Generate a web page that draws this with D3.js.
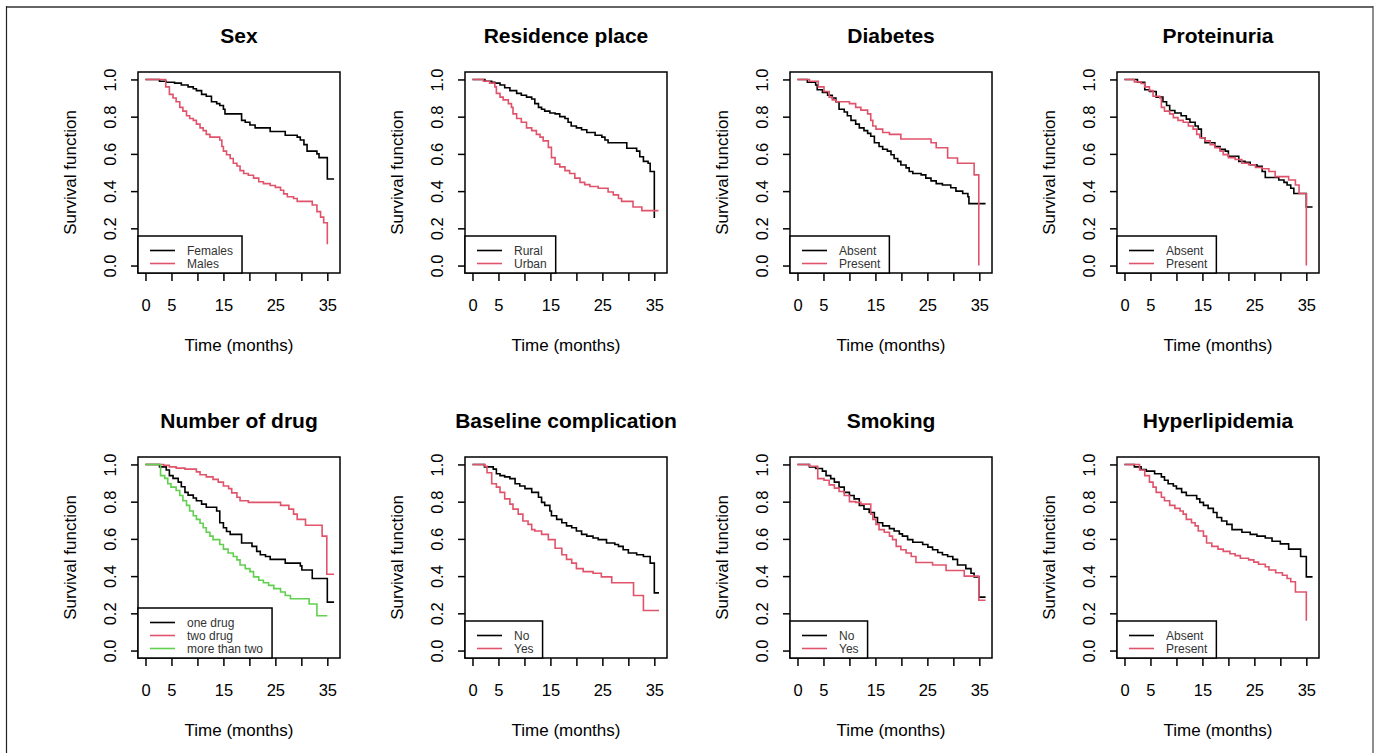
<!DOCTYPE html>
<html>
<head>
<meta charset="utf-8">
<script src="https://cdn.jsdelivr.net/npm/d3@7"></script>
<style>
  body { margin: 0; background: #fff; }
  svg { display: block; font-family: "Liberation Sans", Arial, sans-serif; }
</style>
</head>
<body>
<div id="chart"></div>
<script>
// Kaplan-Meier steps: [time in months, survival]
var sexFemales = [[0,1],[2.7,0.99],[4,0.985],[5.6,0.98],[6.9,0.97],[8.2,0.96],[9.2,0.95],[9.8,0.94],[10.8,0.92],[11.7,0.91],[12.7,0.88],[13.7,0.87],[14.3,0.86],[15,0.84],[15.3,0.815],[18.5,0.78],[19.2,0.77],[20.1,0.755],[21.1,0.74],[24,0.72],[26.9,0.70],[29.2,0.69],[29.8,0.675],[30.5,0.65],[31.1,0.615],[33,0.60],[33.4,0.58],[35,0.465],[36.3,0.465]];
var sexMales = [[0,1],[3.9,0.96],[4.6,0.92],[5.3,0.90],[5.9,0.88],[6.6,0.85],[7.2,0.83],[7.9,0.805],[8.5,0.79],[9.2,0.78],[9.8,0.76],[10.5,0.74],[11.1,0.725],[11.7,0.705],[12.4,0.69],[14.3,0.675],[14.7,0.64],[15,0.615],[15.6,0.595],[16.3,0.575],[16.9,0.55],[17.6,0.535],[18.2,0.51],[18.9,0.495],[19.8,0.485],[20.8,0.47],[21.8,0.45],[22.7,0.44],[24,0.43],[25,0.42],[26,0.405],[26.6,0.385],[27.3,0.37],[28.5,0.36],[29.2,0.345],[32.1,0.325],[33,0.29],[33.7,0.26],[34.3,0.23],[35,0.115]];

var resRural = [[0,1],[2.4,0.99],[3.7,0.985],[4.3,0.98],[5.3,0.97],[6.2,0.955],[7.2,0.94],[8.5,0.925],[9.4,0.915],[10.4,0.905],[11.4,0.895],[12,0.87],[12.7,0.85],[13.3,0.84],[13.9,0.83],[14.9,0.82],[15.9,0.815],[16.8,0.80],[17.8,0.79],[18.4,0.77],[19,0.75],[20,0.74],[21,0.73],[22,0.715],[23.6,0.70],[24.9,0.69],[25.5,0.675],[26.1,0.66],[29.7,0.63],[31.6,0.615],[32.2,0.585],[32.9,0.56],[33.8,0.55],[34.2,0.505],[35,0.255]];
var resUrban = [[0,1],[2.1,0.99],[3.3,0.98],[4.3,0.96],[4.6,0.925],[5.3,0.905],[5.9,0.89],[6.9,0.87],[7.5,0.85],[7.8,0.815],[8.5,0.79],[9.4,0.77],[10.4,0.74],[11.4,0.725],[12.3,0.705],[13,0.69],[13.6,0.67],[14.6,0.635],[15.2,0.58],[15.9,0.545],[16.8,0.53],[17.8,0.51],[18.7,0.495],[19.7,0.47],[20.7,0.447],[21.6,0.435],[22.6,0.425],[24.2,0.415],[26.1,0.395],[27.1,0.38],[28.1,0.36],[28.7,0.345],[30.9,0.315],[32.6,0.295],[35.8,0.295]];

var diabAbsent = [[0,1],[1.9,0.985],[3.5,0.97],[3.8,0.945],[4.8,0.93],[5.8,0.915],[6.7,0.90],[7.4,0.88],[8,0.84],[9,0.825],[9.6,0.805],[10.3,0.78],[11.2,0.76],[11.9,0.74],[12.8,0.725],[13.5,0.71],[14.1,0.695],[14.8,0.66],[15.7,0.64],[16.4,0.625],[17.3,0.615],[18,0.595],[18.6,0.575],[19.3,0.56],[19.9,0.54],[20.9,0.525],[21.5,0.505],[22.2,0.495],[23.8,0.487],[24.7,0.47],[25.7,0.455],[26.7,0.44],[27.9,0.433],[29.5,0.418],[30.5,0.40],[31.8,0.387],[32.8,0.37],[33,0.333],[36.2,0.333]];
var diabPresent = [[0,1],[2.3,0.99],[4.0,0.96],[5.1,0.935],[6.1,0.905],[6.7,0.89],[7.4,0.88],[10,0.87],[11.2,0.85],[12.2,0.835],[13.5,0.815],[14.1,0.78],[14.5,0.75],[15.1,0.733],[16.4,0.715],[17.7,0.705],[19.9,0.68],[25.7,0.66],[26.7,0.633],[28.9,0.578],[30.8,0.55],[34,0.487],[34.9,0]];

var protAbsent = [[0,1],[2.5,0.985],[3.9,0.945],[4.8,0.935],[6.1,0.905],[7.4,0.88],[8.1,0.86],[8.7,0.833],[9.7,0.82],[10.9,0.805],[11.9,0.787],[12.6,0.77],[13.6,0.75],[14.2,0.733],[14.8,0.687],[15.5,0.66],[17.4,0.64],[18.4,0.624],[19.4,0.615],[20,0.587],[22,0.56],[23.2,0.555],[24.2,0.542],[25.5,0.533],[26.5,0.505],[27.1,0.473],[29.7,0.46],[30.7,0.447],[31.3,0.433],[32,0.415],[32.6,0.387],[35,0.315],[36.2,0.315]];
var protPresent = [[0,1],[1.9,0.987],[3.2,0.978],[3.9,0.96],[4.8,0.94],[5.5,0.91],[6.8,0.90],[7.1,0.85],[7.7,0.83],[8.7,0.815],[9.4,0.795],[10.3,0.78],[11.3,0.77],[12.3,0.75],[13.2,0.733],[13.9,0.705],[14.5,0.687],[15.5,0.67],[16.5,0.65],[17.4,0.633],[18.4,0.615],[19,0.596],[20,0.58],[21.3,0.57],[22.6,0.55],[23.9,0.542],[25.2,0.527],[26.5,0.52],[27.8,0.505],[29,0.478],[31.6,0.46],[32.9,0.433],[33.6,0.387],[35,0]];

var drugOne = [[0,1],[2.7,0.987],[4,0.97],[4.6,0.94],[5.3,0.925],[6.3,0.905],[6.9,0.88],[7.6,0.85],[8.2,0.835],[9.2,0.82],[9.8,0.805],[10.8,0.787],[11.7,0.77],[13.7,0.75],[14.3,0.687],[15,0.66],[15.6,0.64],[16.3,0.624],[18.5,0.578],[20.5,0.56],[21.4,0.533],[22.1,0.515],[23.1,0.505],[24,0.49],[26.9,0.47],[29.8,0.455],[30.1,0.433],[32.1,0.387],[35,0.26],[36.3,0.26]];
var drugTwo = [[0,1],[3.5,0.995],[4.6,0.987],[5.9,0.98],[7.6,0.975],[9.8,0.96],[10.5,0.945],[11.7,0.933],[13,0.92],[14,0.905],[15,0.884],[16,0.87],[16.6,0.847],[17.6,0.824],[18.2,0.805],[19.8,0.796],[26,0.78],[27.6,0.76],[28.5,0.733],[29.2,0.705],[30.8,0.673],[34,0.615],[34.9,0.41],[36.3,0.41]];
var drugMore = [[0,1],[2.9,0.94],[3.7,0.925],[4.3,0.896],[4.9,0.878],[5.9,0.86],[6.6,0.833],[7.2,0.805],[7.9,0.78],[8.5,0.75],[9.2,0.724],[9.8,0.705],[10.5,0.684],[11.1,0.66],[11.7,0.636],[12.4,0.615],[13,0.596],[14.3,0.57],[15,0.545],[15.9,0.524],[16.9,0.505],[17.6,0.487],[18.2,0.46],[19.2,0.44],[20.1,0.424],[20.8,0.396],[21.8,0.378],[22.7,0.364],[23.7,0.35],[24.7,0.333],[26,0.315],[26.9,0.296],[27.9,0.278],[31.5,0.25],[33,0.187],[35,0.187]];

var compNo = [[0,1],[2.3,0.987],[4,0.975],[4.6,0.95],[5.3,0.94],[6.2,0.933],[7.2,0.924],[8.2,0.896],[9.1,0.884],[10.1,0.87],[11.4,0.85],[12.7,0.824],[13.3,0.796],[13.9,0.78],[14.9,0.75],[15.2,0.724],[16.2,0.705],[17.2,0.687],[18.1,0.67],[19.1,0.66],[20,0.642],[21,0.624],[22,0.615],[23.2,0.605],[24.2,0.596],[25.8,0.578],[27.4,0.57],[28.1,0.56],[29,0.542],[30,0.524],[31.6,0.515],[32.9,0.505],[34.2,0.47],[35,0.31],[35.9,0.31]];
var compYes = [[0,1],[2.4,0.99],[2.8,0.955],[3.7,0.896],[4.6,0.878],[5.3,0.85],[6.2,0.815],[7.2,0.787],[7.8,0.76],[8.8,0.733],[9.7,0.696],[10.7,0.678],[11.4,0.65],[12,0.642],[13.3,0.624],[14.6,0.596],[15.9,0.55],[17.2,0.515],[18.1,0.49],[19.1,0.47],[20,0.44],[21.3,0.424],[23.2,0.415],[24.8,0.396],[26.8,0.364],[31,0.296],[32.9,0.215],[35.9,0.215]];

var smokeNo = [[0,1],[2.3,0.987],[3.5,0.978],[4.8,0.964],[5.5,0.94],[6.4,0.924],[7.1,0.905],[8,0.878],[9,0.85],[10,0.833],[10.9,0.815],[11.9,0.78],[12.8,0.76],[13.8,0.742],[14.8,0.715],[15.4,0.687],[16.4,0.67],[17.7,0.655],[18.6,0.642],[19.6,0.627],[20.2,0.615],[21.2,0.596],[22.2,0.582],[24.1,0.57],[25.1,0.556],[26,0.542],[27,0.527],[27.9,0.515],[28.9,0.505],[29.9,0.49],[30.8,0.46],[32.4,0.44],[33.4,0.415],[34,0.396],[34.9,0.287],[36.2,0.287]];
var smokeYes = [[0,1],[2.3,0.99],[3.9,0.924],[5.1,0.915],[6.1,0.89],[7.1,0.873],[8,0.855],[9,0.833],[10,0.80],[11.2,0.796],[12.2,0.787],[14.1,0.733],[14.5,0.705],[15.1,0.678],[15.7,0.65],[16.7,0.636],[17.7,0.615],[18.3,0.596],[19,0.56],[19.9,0.542],[20.9,0.524],[21.9,0.505],[22.8,0.473],[26,0.46],[28.6,0.43],[32.1,0.40],[34.9,0.27],[36.2,0.27]];

var hyperAbsent = [[0,1],[1.9,0.987],[3.2,0.973],[4.2,0.964],[5.8,0.95],[7.1,0.933],[7.7,0.915],[8.4,0.896],[9.4,0.884],[10,0.87],[11,0.85],[11.9,0.833],[13.9,0.815],[14.5,0.796],[15.2,0.78],[16.1,0.764],[17.1,0.742],[17.8,0.715],[18.7,0.696],[19.7,0.678],[20.7,0.65],[22.6,0.636],[24.2,0.624],[25.5,0.615],[27.1,0.605],[28.4,0.587],[30,0.573],[31.6,0.545],[33.9,0.505],[35,0.396],[36.2,0.396]];
var hyperPresent = [[0,1],[2.9,0.97],[3.9,0.94],[4.8,0.905],[5.5,0.878],[6.1,0.85],[7.1,0.824],[7.7,0.805],[8.7,0.78],[9.7,0.764],[10.7,0.75],[11.3,0.733],[11.9,0.705],[12.9,0.687],[13.6,0.67],[14.2,0.642],[15.2,0.615],[15.8,0.578],[16.8,0.56],[18,0.545],[19,0.533],[20.3,0.52],[21.3,0.51],[22.3,0.496],[23.9,0.487],[24.9,0.475],[25.8,0.464],[27.1,0.45],[27.8,0.433],[29.1,0.418],[30.4,0.405],[31.3,0.387],[32,0.37],[32.9,0.315],[35,0.16]];

var titles = ["Sex","Residence place","Diabetes","Proteinuria","Number of drug","Baseline complication","Smoking","Hyperlipidemia"];
var legends = [["Females","Males"],["Rural","Urban"],["Absent","Present"],["Absent","Present"],
               ["one drug","two drug","more than two"],["No","Yes"],["No","Yes"],["Absent","Present"]];
var curves = [[sexFemales,sexMales],[resRural,resUrban],[diabAbsent,diabPresent],[protAbsent,protPresent],
              [drugOne,drugTwo,drugMore],[compNo,compYes],[smokeNo,smokeYes],[hyperAbsent,hyperPresent]];
var xTicks = [0,5,10,15,20,25,30,35];
var xTickLabels = ["0","5","","15","","25","","35"];
var yTicks = [0,0.2,0.4,0.6,0.8,1.0];
var strataColors = ["#000000","#DF536B","#61D04F"];

var width = 1377, height = 753;
var colLeft = [138,465,790,1117];
var rowTop = [72,457];
var boxW = 202, boxH = 201;

var svg = d3.select("#chart").append("svg")
  .attr("width", width).attr("height", height);

// frame round the figure
svg.append("line").attr("x1",6).attr("x2",1373).attr("y1",7).attr("y2",7)
  .attr("stroke","#666").attr("stroke-width",2);
svg.append("line").attr("x1",6.5).attr("x2",6.5).attr("y1",6).attr("y2",height)
  .attr("stroke","#222").attr("stroke-width",1.2);
svg.append("line").attr("x1",1373).attr("x2",1373).attr("y1",6).attr("y2",height)
  .attr("stroke","#444").attr("stroke-width",1.2);

titles.forEach(function(title, i){
  var x0 = colLeft[i % 4], y0 = rowTop[Math.floor(i / 4)];
  var g = svg.append("g").attr("transform","translate(" + x0 + "," + y0 + ")");

  // R style 4% padding round the data range
  var x = d3.scaleLinear().domain([-1.44, 37.44]).range([0, boxW]);
  var y = d3.scaleLinear().domain([-0.04, 1.04]).range([boxH, 0]);

  // curves
  var line = d3.line().curve(d3.curveStepAfter)
    .x(function(d){ return x(d[0]); })
    .y(function(d){ return y(d[1]); });
  curves[i].forEach(function(s, k){
    g.append("path").attr("d", line(s))
      .attr("fill","none").attr("stroke", strataColors[k]).attr("stroke-width",1.6);
  });

  // axes
  var ax = g.append("g").attr("transform","translate(0," + boxH + ")")
    .call(d3.axisBottom(x).tickValues(xTicks).tickSize(8)
      .tickFormat(function(d, j){ return xTickLabels[j]; }));
  ax.select(".domain").remove();
  ax.selectAll("line").attr("stroke","#000").attr("stroke-width",1.5);
  ax.selectAll("text").attr("font-size",16.5).attr("fill","#000").attr("font-family",null)
    .attr("dy",null).attr("y",32).attr("dominant-baseline","central");

  var ay = g.append("g")
    .call(d3.axisLeft(y).tickValues(yTicks).tickSize(7).tickFormat(d3.format(".1f")));
  ay.select(".domain").remove();
  ay.selectAll("line").attr("stroke","#000").attr("stroke-width",1.5);
  ay.selectAll("text").attr("font-size",16.5).attr("fill","#000").attr("font-family",null)
    .attr("x",null).attr("dy",null)
    .attr("text-anchor","middle").attr("dominant-baseline","central")
    .attr("transform","translate(-28,0) rotate(-90)");

  // box
  g.append("rect").attr("width",boxW).attr("height",boxH)
    .attr("fill","none").attr("stroke","#000").attr("stroke-width",1.5);

  // legend in the bottom left corner
  var labs = legends[i];
  var lgH = 11 + 13 * labs.length;
  var lg = g.append("g").attr("transform","translate(0," + (boxH - lgH) + ")");
  var lgRect = lg.append("rect").attr("height",lgH).attr("fill","#fff")
    .attr("stroke","#000").attr("stroke-width",1.5);
  var maxW = 0;
  labs.forEach(function(lab, k){
    var yy = 14.5 + 13 * k;
    lg.append("line").attr("x1",12).attr("x2",37).attr("y1",yy).attr("y2",yy)
      .attr("stroke", strataColors[k]).attr("stroke-width",1.6);
    var t = lg.append("text").attr("x",49).attr("y",yy)
      .attr("dominant-baseline","central").attr("font-size",12).attr("fill","#333")
      .text(lab);
    maxW = Math.max(maxW, t.node().getComputedTextLength());
  });
  lgRect.attr("width", 49 + maxW + 9);

  // titles and axis labels
  g.append("text").attr("x",boxW / 2).attr("y",-37)
    .attr("text-anchor","middle").attr("dominant-baseline","central")
    .attr("font-size",21).attr("font-weight","bold").text(title);
  g.append("text").attr("x",boxW / 2).attr("y",boxH + 72)
    .attr("text-anchor","middle").attr("dominant-baseline","central")
    .attr("font-size",17).text("Time (months)");
  g.append("text")
    .attr("transform","translate(-68," + (boxH / 2) + ") rotate(-90)")
    .attr("text-anchor","middle").attr("dominant-baseline","central")
    .attr("font-size",17).text("Survival function");
});
</script>
</body>
</html>
